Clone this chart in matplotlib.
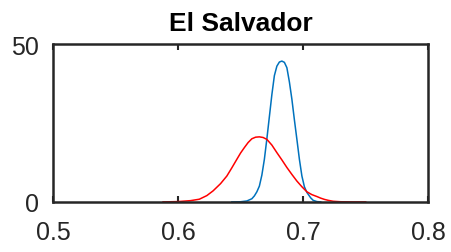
import matplotlib.pyplot as plt

plt.rcParams['font.family'] = ['Liberation Sans', 'DejaVu Sans']

title = "El Salvador"

# blue density
blue_x = [0.643, 0.650, 0.655, 0.659, 0.661, 0.663, 0.665, 0.667, 0.669, 0.671, 0.673,
          0.675, 0.677, 0.679, 0.681, 0.683, 0.685, 0.687, 0.689, 0.691, 0.693, 0.695,
          0.697, 0.699, 0.701, 0.703, 0.706, 0.708, 0.711, 0.714]
blue_y = [0.0, 0.05, 0.3, 1.0, 1.9, 3.2, 5.0, 8.5, 13.5, 20.0, 27.0,
          34.0, 40.0, 43.0, 44.3, 44.6, 44.2, 42.5, 38.0, 32.5, 26.0, 19.8,
          13.5, 8.2, 4.8, 3.0, 1.3, 0.5, 0.1, 0.0]

# red density
red_x = [0.588, 0.600, 0.610, 0.617, 0.623, 0.628, 0.634, 0.639, 0.643, 0.647, 0.650,
         0.653, 0.656, 0.659, 0.662, 0.665, 0.668, 0.671, 0.675, 0.679, 0.683, 0.687,
         0.691, 0.695, 0.699, 0.703, 0.707, 0.711, 0.714, 0.717, 0.720, 0.724, 0.730,
         0.740, 0.750]
red_y = [0.0, 0.1, 0.4, 0.85, 2.0, 3.5, 5.8, 8.2, 10.8, 13.5, 15.5,
         17.2, 18.8, 20.0, 20.5, 20.6, 20.4, 19.8, 18.0, 15.6, 13.3, 10.9,
         8.7, 6.6, 4.8, 3.2, 2.3, 1.7, 1.2, 0.8, 0.5, 0.2, 0.05,
         0.0, 0.0]

xticks = [0.5, 0.6, 0.7, 0.8]
yticks = [0, 50]

fig = plt.figure(figsize=(4.51, 2.53), dpi=100)
ax = fig.add_axes([0.1175, 0.198, 0.832, 0.624])

ax.plot(blue_x, blue_y, color="#0072BD", lw=1.1)
ax.plot(red_x, red_y, color="#FF0000", lw=1.1)

ax.set_xlim(0.5, 0.8)
ax.set_ylim(0, 50)
ax.set_xticks(xticks)
ax.set_xticklabels([str(t) for t in xticks])
ax.set_yticks(yticks)
ax.set_yticklabels([str(t) for t in yticks])

ax.tick_params(direction="in", length=4, width=1.5, labelsize=18,
               colors="#262626", top=True, right=False, pad=13)
ax.tick_params(axis="y", length=0, pad=10)
for s in ax.spines.values():
    s.set_linewidth(1.8)
    s.set_color("#262626")

ax.set_title(title, fontsize=19, fontweight="bold", pad=10)

fig.savefig("out.png", dpi=100)
